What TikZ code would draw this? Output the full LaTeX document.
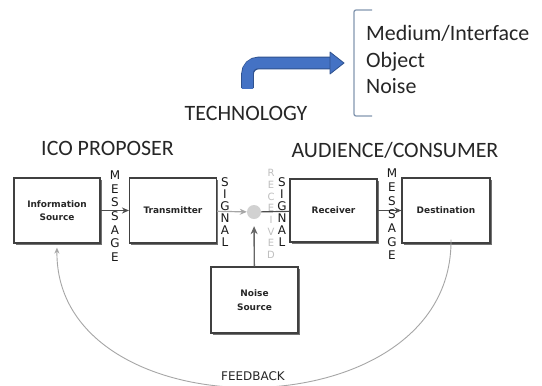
\documentclass[tikz,border=0pt]{standalone}
\usepackage{fontspec}
\setmainfont{Carlito}
\newfontfamily\comic{DejaVu Sans}
\usetikzlibrary{arrows.meta,shadows}
\definecolor{offblue}{HTML}{4472C4}
\definecolor{offblueedge}{HTML}{2F528F}
\definecolor{bracketcol}{HTML}{8497B0}
\definecolor{ink}{HTML}{262626}
\tikzset{
  head/.style={font=\fontsize{22}{22}\selectfont, text=ink, inner sep=0pt},
  listitem/.style={font=\fontsize{22}{22}\selectfont, text=ink, inner sep=0pt, anchor=base west},
  block/.style={draw=black!75, line width=1.1bp, fill=white, inner sep=2pt,
    align=center, text=black!85, font=\comic\bfseries\fontsize{9}{13.5}\selectfont,
    drop shadow={shadow xshift=1.6bp, shadow yshift=-1.6bp, fill=black!55, opacity=1}},
  stack/.style={inner sep=0pt, align=center, text=black!90,
    font=\comic\fontsize{12}{13.7}\selectfont},
  flow/.style={draw=black!70, line width=1.2bp, -{Stealth[length=7bp,width=6bp,fill=black!45]}},
  faint/.style={draw=black!35, line width=1.2bp, -{Stealth[length=7bp,width=6bp]}},
}
\begin{document}
\begin{tikzpicture}[x=1bp, y=-1bp]
\useasboundingbox[fill=white] (0,0) rectangle (542,385);

% headings
\node[head, anchor=base] (ico) at (107.5,155) {ICO PROPOSER};
\node[head, anchor=base] (aud) at (395,157) {AUDIENCE/CONSUMER};
\node[head, anchor=base] (tech) at (246,120) {TECHNOLOGY};

% bent arrow from TECHNOLOGY to the list
\coordinate (bendstart) at (247.5,88);
\coordinate (bendcorner) at (247.5,63);
\coordinate (bendend) at (331,63);
\draw[offblueedge, line width=12.6bp, rounded corners=11bp] (bendstart) -- (bendcorner) -- (bendend);
\draw[offblue, line width=10.6bp, rounded corners=10bp] ([yshift=-0.8bp]bendstart) -- (bendcorner) -- ([xshift=0.8bp]bendend);
\fill[offblue, draw=offblueedge, line width=0.8bp, line join=round]
  (330,52) -- (344,63) -- (330,74) -- cycle;

% bracket and list
\draw[bracketcol, line width=1.3bp, rounded corners=2bp] (372,10) -- (354,10) -- (354,116) -- (372,116);
\node[listitem] (medium) at (366,40) {Medium/Interface};
\node[listitem] (object) at (366,67) {Object};
\node[listitem] (noiseitem) at (366,93) {Noise};

% blocks
\node[block, minimum width=86bp, minimum height=65bp] (info) at (57,210.5) {Information\\Source};
\node[block, minimum width=87bp, minimum height=65bp] (trans) at (173,210.5) {Transmitter};
\node[block, minimum width=87bp, minimum height=63bp] (recv) at (333.5,210.5) {Receiver};
\node[block, minimum width=88bp, minimum height=65bp] (dest) at (446,210.5) {Destination};
\node[block, minimum width=87bp, minimum height=66bp] (noise) at (254.5,300) {Noise\\Source};
\node[circle, fill=black!18, minimum size=14bp, inner sep=0pt] (rx) at (254,212) {};

% connectors
\draw[flow] (info) -- (trans);
\draw[faint] (trans) -- (rx);
\draw[draw=black!70, line width=1.2bp] (rx) -- (recv);
\draw[flow] (recv) -- (dest);
\draw[draw=black!60, line width=1.4bp, -{Stealth[length=8bp,width=7bp,fill=black!50]}, shorten >=7bp] (noise) -- (rx);

% feedback loop
\coordinate (fbstart) at ([xshift=5bp, yshift=4bp]dest.south);
\draw[draw=black!35, line width=0.9bp, -{Stealth[length=6bp,width=5bp]}, shorten >=4bp]
  (fbstart) .. controls (453,435) and (55,435) .. (info.south);
\node[font=\comic\fontsize{12}{12}\selectfont, text=black!85, inner sep=0pt, anchor=base] (fb) at (253,380) {FEEDBACK};

% vertical labels on the links
\node[stack] (msg1) at (115,216) {M\\E\\S\\S\\A\\G\\E};
\node[stack, font=\comic\fontsize{12}{12}\selectfont] (sig1) at (225,212) {S\\I\\G\\N\\A\\L};
\node[stack, text=black!25, font=\comic\fontsize{10}{11.7}\selectfont] (rcvd) at (271,214) {R\\E\\C\\E\\I\\V\\E\\D};
\node[stack, font=\comic\fontsize{12}{12}\selectfont] (sig2) at (282,212) {S\\I\\G\\N\\A\\L};
\node[stack] (msg2) at (392,214.5) {M\\E\\S\\S\\A\\G\\E};
\end{tikzpicture}
\end{document}
